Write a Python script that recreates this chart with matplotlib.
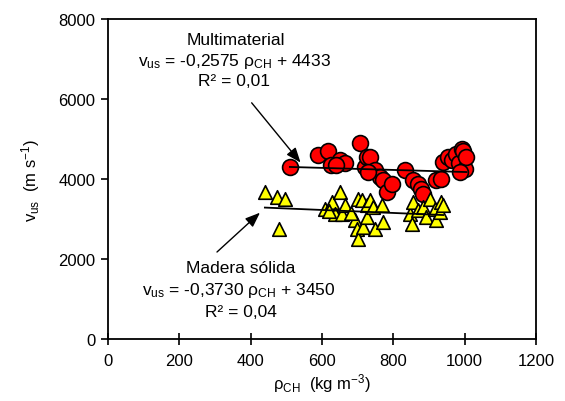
import matplotlib
matplotlib.use("Agg")
import matplotlib.pyplot as plt
import numpy as np

plt.rcParams['font.family'] = ['Liberation Sans', 'DejaVu Sans']
plt.rcParams['mathtext.fontset'] = 'custom'
plt.rcParams['mathtext.rm'] = 'Liberation Sans'
plt.rcParams['mathtext.it'] = 'Liberation Sans'

# Multimaterial (circles)
mm_x = [510, 590, 618, 625, 650, 665, 708, 720, 725, 734, 748, 762, 772, 781, 795,
        833, 856, 870, 879, 884, 921, 935, 940, 954, 965, 977, 985, 992, 996, 1001,
        1005, 987, 640, 730]
mm_y = [4310, 4600, 4690, 4340, 4480, 4400, 4900, 4300, 4560, 4550, 4215, 4050, 3965, 3670, 3880,
        4215, 3965, 3880, 3755, 3630, 3965, 4006, 4423, 4548, 4480, 4632, 4400, 4757, 4700, 4256,
        4548, 4173, 4350, 4180]

# Madera sólida (triangles)
mad_x = [440, 473, 496, 480, 608, 627, 636, 650, 655, 664, 692, 697, 702, 702, 711, 716,
         725, 725, 734, 744, 749, 767, 772, 847, 851, 856, 870, 884, 893, 903, 917, 921,
         931, 935, 940, 680, 620]
mad_y = [3680, 3546, 3505, 2754, 3255, 3422, 3130, 3672, 3130, 3338, 2963, 2754, 3505, 2504, 3463, 2796,
         3046, 3338, 3463, 3297, 2754, 3338, 2921, 3130, 2880, 3422, 3214, 3297, 3046, 3505, 3255, 2963,
         3172, 3422, 3338, 3150, 3200]

mm_slope, mm_icpt = -0.2575, 4433
mad_slope, mad_icpt = -0.3730, 3450

xticks = [0, 200, 400, 600, 800, 1000, 1200]
yticks = [0, 2000, 4000, 6000, 8000]

fig = plt.figure(figsize=(5.65, 4.02), dpi=100)
ax = fig.add_axes([0.191, 0.1542, 0.7577, 0.796])

ax.scatter(mm_x, mm_y, s=130, marker='o', facecolor='#FF0000', edgecolor='black',
           linewidths=1.2, zorder=3)
ax.scatter(mad_x, mad_y, s=95, marker='^', facecolor='#FFFF00', edgecolor='black',
           linewidths=1.2, zorder=4)

lx = np.array([min(mm_x), max(mm_x)])
ax.plot(lx, mm_slope * lx + mm_icpt, color='black', lw=1.3, zorder=5)
lx2 = np.array([min(mad_x), max(mad_x)])
ax.plot(lx2, mad_slope * lx2 + mad_icpt, color='black', lw=1.3, zorder=5)

ax.set_xlim(0, 1200)
ax.set_ylim(0, 8000)
ax.set_xticks(xticks)
ax.set_yticks(yticks)
ax.tick_params(axis='x', direction='inout', length=8, width=1.2, labelsize=12, pad=6)
ax.tick_params(axis='y', direction='out', length=5, width=1.2, labelsize=12, pad=4)
for sp in ax.spines.values():
    sp.set_linewidth(1.3)

ax.set_xlabel(r'$\mathregular{\rho_{CH}}$  (kg m$\mathregular{^{-3}}$)', fontsize=12, labelpad=2)
ax.set_ylabel(r'$\mathregular{v_{us}}$  (m s$\mathregular{^{-1}}$)', fontsize=12, labelpad=12)

# Annotations
fs = 12.5
ax.text(360, 7480, 'Multimaterial', ha='center', va='center', fontsize=fs)
ax.text(356, 6960, r'$\mathregular{v_{us}}$ = -0,2575 $\mathregular{\rho_{CH}}$ + 4433',
        ha='center', va='center', fontsize=fs)
ax.text(354, 6460, 'R² = 0,01', ha='center', va='center', fontsize=fs)
ax.annotate('', xy=(545, 4357), xytext=(398, 5959),
            arrowprops=dict(arrowstyle='-|>,head_length=0.9,head_width=0.35', color='black', lw=1.0),
            zorder=6)

ax.text(372, 1800, 'Madera sólida', ha='center', va='center', fontsize=fs)
ax.text(368, 1240, r'$\mathregular{v_{us}}$ = -0,3730 $\mathregular{\rho_{CH}}$ + 3450',
        ha='center', va='center', fontsize=fs)
ax.text(372, 700, 'R² = 0,04', ha='center', va='center', fontsize=fs)
ax.annotate('', xy=(432, 3205), xytext=(300, 2128),
            arrowprops=dict(arrowstyle='-|>,head_length=0.9,head_width=0.35', color='black', lw=1.0),
            zorder=6)

fig.savefig('out.png', dpi=100)
